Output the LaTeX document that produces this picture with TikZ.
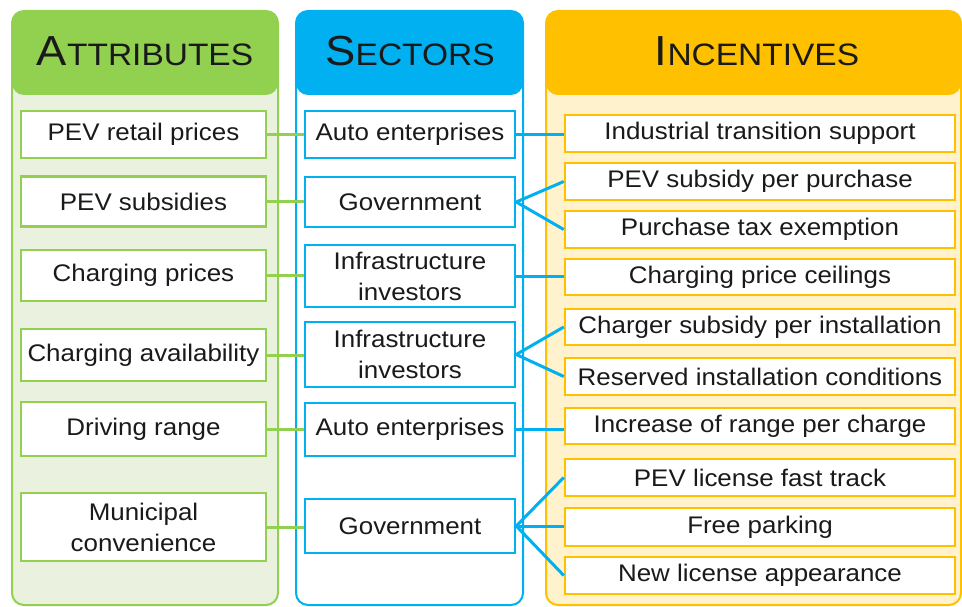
\documentclass[tikz,border=0pt]{standalone}
\usepackage{fontspec}
\setmainfont{Liberation Sans}[FakeStretch=1.08]
\definecolor{grn}{HTML}{92D050}
\definecolor{grnbg}{HTML}{EAF2DF}
\definecolor{blu}{HTML}{00B0F0}
\definecolor{yel}{HTML}{FFC000}
\definecolor{yelbg}{HTML}{FFF2CC}
\definecolor{txt}{HTML}{1A1A1A}
\begin{document}
\begin{tikzpicture}[x=1pt,y=-1pt,
  panelbody/.style={draw=#1, line width=2pt, rounded corners=12pt},
  panelhead/.style={fill=#1, rounded corners=12pt},
  headtxt/.style={text=txt, inner sep=0pt},
  box/.style={draw=#1, line width=2.5pt, fill=white, inner sep=0pt, align=center,
    text=txt, font=\fontsize{24}{31}\selectfont},
  abox/.style={box=grn, minimum width=245pt},
  sbox/.style={box=blu, minimum width=210pt},
  ibox/.style={box=yel, minimum width=390pt},
  gline/.style={draw=grn, line width=3pt},
  bline/.style={draw=blu, line width=3pt}]
\useasboundingbox (0,0) rectangle (962,607);
\fill[white] (0,0) rectangle (962,607);
% panels
\filldraw[panelbody=grn, fill=grnbg] (12,11) rectangle (278,605);
\filldraw[panelbody=blu, fill=white] (296,11) rectangle (523,605);
\filldraw[panelbody=yel, fill=yelbg] (546,11) rectangle (961,605);
\fill[panelhead=grn] (12,11) rectangle (278,95);
\fill[panelhead=blu] (296,11) rectangle (523,95);
\fill[panelhead=yel] (546,11) rectangle (961,95);
\node[headtxt] (hA) at (145,51) {\fontsize{42}{42}\selectfont A\fontsize{31}{31}\selectfont TTRIBUTES};
\node[headtxt] (hS) at (410,51) {\fontsize{42}{42}\selectfont S\fontsize{31}{31}\selectfont ECTORS};
\node[headtxt] (hI) at (757,51) {\fontsize{42}{42}\selectfont I\fontsize{31}{31}\selectfont NCENTIVES};
% attributes
\node[abox, minimum height=47pt] (a1) at (143.5,134.5) {PEV retail prices};
\node[abox, minimum height=50pt] (a2) at (143.5,201.5) {PEV subsidies};
\node[abox, minimum height=51pt] (a3) at (143.5,275.5) {Charging prices};
\node[abox, minimum height=52pt] (a4) at (143.5,355) {Charging availability};
\node[abox, minimum height=54pt] (a5) at (143.5,429) {Driving range};
\node[abox, minimum height=68pt] (a6) at (143.5,527) {Municipal\\convenience};
% sectors
\node[sbox, minimum height=47pt] (s1) at (410,134.5) {Auto enterprises};
\node[sbox, minimum height=50pt] (s2) at (410,202) {Government};
\node[sbox, minimum height=62pt] (s3) at (410,276) {Infrastructure\\investors};
\node[sbox, minimum height=65pt] (s4) at (410,354.5) {Infrastructure\\investors};
\node[sbox, minimum height=53pt] (s5) at (410,429.5) {Auto enterprises};
\node[sbox, minimum height=54pt] (s6) at (410,526) {Government};
% incentives
\node[ibox, minimum height=37pt] (i1) at (760,133.5) {Industrial transition support};
\node[ibox, minimum height=37pt] (i2) at (760,181.5) {PEV subsidy per purchase};
\node[ibox, minimum height=37pt] (i3) at (760,229.5) {Purchase tax exemption};
\node[ibox, minimum height=36pt] (i4) at (760,277) {Charging price ceilings};
\node[ibox, minimum height=36pt] (i5) at (760,327) {Charger subsidy per installation};
\node[ibox, minimum height=37pt] (i6) at (760,376.5) {Reserved installation conditions};
\node[ibox, minimum height=36pt] (i7) at (760,426) {Increase of range per charge};
\node[ibox, minimum height=37pt] (i8) at (760,477.5) {PEV license fast track};
\node[ibox, minimum height=38pt] (i9) at (760,527) {Free parking};
\node[ibox, minimum height=37pt] (i10) at (760,575.5) {New license appearance};
% connectors attributes -> sectors
\draw[gline] (a1.east) -- (a1.east -| s1.west);
\draw[gline] (a2.east) -- (a2.east -| s2.west);
\draw[gline] (a3.east) -- (a3.east -| s3.west);
\draw[gline] (a4.east) -- (a4.east -| s4.west);
\draw[gline] (a5.east) -- (a5.east -| s5.west);
\draw[gline] (a6.east) -- (a6.east -| s6.west);
% connectors sectors -> incentives
\draw[bline] (s1.east) -- (s1.east -| i1.west);
\draw[bline] (s2.east) -- (i2.west);
\draw[bline] (s2.east) -- (i3.west);
\draw[bline] (s3.east) -- (s3.east -| i4.west);
\draw[bline] (s4.east) -- (i5.west);
\draw[bline] (s4.east) -- (i6.west);
\draw[bline] (s5.east) -- (s5.east -| i7.west);
\draw[bline] (s6.east) -- (i8.west);
\draw[bline] (s6.east) -- (s6.east -| i9.west);
\draw[bline] (s6.east) -- (i10.west);
\end{tikzpicture}
\end{document}
